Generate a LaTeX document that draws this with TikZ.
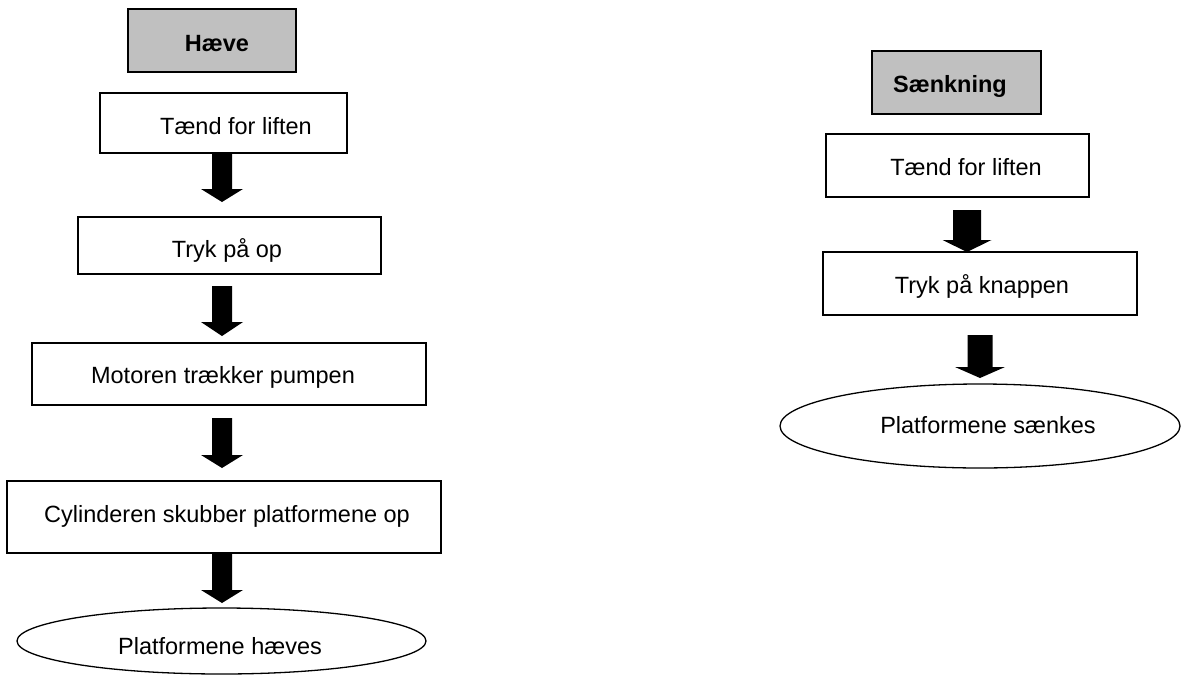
\documentclass[tikz,border=0pt]{standalone}
\usepackage{fontspec}
\setmainfont{Liberation Sans}
\usetikzlibrary{shapes.geometric}
\definecolor{headgray}{HTML}{C0C0C0}
\tikzset{
  stepbox/.style={draw=black, line width=1.3pt, fill=white, rectangle, inner sep=0pt},
  headbox/.style={stepbox, fill=headgray},
  endoval/.style={draw=black, line width=1.3pt, fill=white, ellipse, inner sep=0pt},
  txt/.style={anchor=base, inner sep=0pt, font=\fontsize{23.5}{28}\selectfont},
  btxt/.style={txt, font=\fontsize{23.5}{28}\selectfont\bfseries},
}
\newcommand{\blkarrow}[6]{%
  \fill[black] (#1-#5,#2) -- (#1+#5,#2) -- (#1+#5,#3) -- (#1+#6,#3) -- (#1,#4) -- (#1-#6,#3) -- (#1-#5,#3) -- cycle;}
\begin{document}
\begin{tikzpicture}[x=1pt,y=-1pt]
\useasboundingbox[fill=white] (0,0) rectangle (1181,675);
% ---------- left column: Hæve ----------
\node[headbox, minimum width=168pt, minimum height=63pt] (h0) at (212,40.5) {};
\node[btxt] (h0t) at (217,51) {Hæve};
\node[stepbox, minimum width=247pt, minimum height=60pt] (h1) at (223.5,123) {};
\node[txt] (h1t) at (236,134) {Tænd for liften};
\node[stepbox, minimum width=303pt, minimum height=57pt] (h2) at (229.5,245.5) {};
\node[txt] (h2t) at (227,257) {Tryk på op};
\node[stepbox, minimum width=394pt, minimum height=62pt] (h3) at (229,374) {};
\node[txt] (h3t) at (223,383) {Motoren trækker pumpen};
\node[stepbox, minimum width=434pt, minimum height=72pt] (h4) at (224,517) {};
\node[txt] (h4t) at (227,522) {Cylinderen skubber platformene op};
\node[endoval, minimum width=409pt, minimum height=66pt] (h5) at (221.5,641) {};
\node[txt] (h5t) at (220,654) {Platformene hæves};
\blkarrow{222}{153}{189}{202}{10}{21}
\blkarrow{222}{286}{322}{336}{10}{21}
\blkarrow{222}{418}{455}{468}{10}{21}
\blkarrow{222}{553}{590}{603}{10}{21}
% ---------- right column: Sænkning ----------
\node[headbox, minimum width=169pt, minimum height=63pt] (s0) at (956.5,82.5) {};
\node[btxt] (s0t) at (950,92) {Sænkning};
\node[stepbox, minimum width=263pt, minimum height=63pt] (s1) at (957.5,165.5) {};
\node[txt] (s1t) at (966,175) {Tænd for liften};
\node[stepbox, minimum width=314pt, minimum height=63pt] (s2) at (980,283.5) {};
\node[txt] (s2t) at (982,293) {Tryk på knappen};
\node[endoval, minimum width=400pt, minimum height=84pt] (s3) at (980,426) {};
\node[txt] (s3t) at (988,433) {Platformene sænkes};
\blkarrow{967}{210}{240}{252}{14}{24.5}
\blkarrow{980}{335}{367}{378}{12.5}{25}
\end{tikzpicture}
\end{document}
